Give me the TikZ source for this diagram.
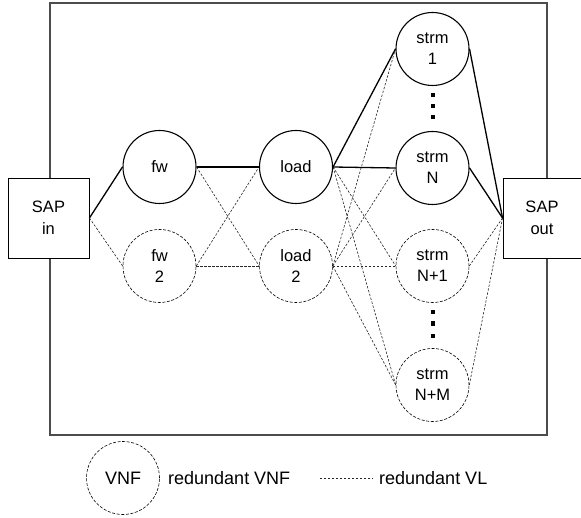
\documentclass[tikz,border=0pt]{standalone}
\usepackage{fontspec}
\setmainfont{Liberation Sans}
\begin{document}
\begin{tikzpicture}[x=1pt,y=-1pt,
  vnf/.style={circle,draw,line width=1.1pt,minimum size=73pt,inner sep=0pt,align=center,
    font=\fontsize{16.5}{21}\selectfont},
  rvnf/.style={vnf,line width=0.6pt,dash pattern=on 3pt off 1.6pt},
  sap/.style={rectangle,draw,fill=white,line width=0.9pt,minimum width=81pt,minimum height=80pt,
    inner sep=0pt,align=center,font=\fontsize{16.5}{22}\selectfont},
  vl/.style={line width=1.3pt},
  rvl/.style={line width=0.6pt,black!85,dash pattern=on 2.4pt off 1.6pt},
  dotmark/.style={fill=black,draw=none,minimum width=4pt,minimum height=4.3pt,inner sep=0pt,rectangle},
  legend/.style={font=\fontsize{18}{22}\selectfont,anchor=west,inner sep=0pt}]
\useasboundingbox (0,0) rectangle (581,518);

% enclosing box of the service chain
\draw[black!70,line width=1.2pt] (50,3) rectangle (547,435);

% service access points
\node[sap] (sapin) at (48.5,218) {SAP\\in};
\node[sap,minimum width=78pt] (sapout) at (542,218) {SAP\\out};

% active and redundant VNFs
\node[vnf] (fw) at (159.5,167) {fw};
\node[rvnf] (fw2) at (159.5,266) {fw\\2};
\node[vnf] (load) at (296,167) {load};
\node[rvnf] (load2) at (296,266) {load\\2};
\node[vnf] (s1) at (432.5,49) {strm\\1};
\node[vnf] (sN) at (432.5,168) {strm\\N};
\node[rvnf] (sN1) at (432.5,266) {strm\\N+1};
\node[rvnf] (sNM) at (432.5,385) {strm\\N+M};

% vertical ellipses between stream instances
\foreach \y/\n in {95/a,106/b,117/c} \node[dotmark] (up\n) at (432.5,\y) {};
\foreach \y/\n in {312/a,323.5/b,336/c} \node[dotmark] (lo\n) at (432.5,\y) {};

% redundant virtual links
\draw[rvl] (sapin.east) -- (fw2.west);
\draw[rvl] (fw.east) -- (load2.west);
\draw[rvl] (fw2.east) -- (load.west);
\draw[rvl] (fw2.east) -- (load2.west);
\draw[rvl] (load.east) -- (sN1.west);
\draw[rvl] (load.east) -- (sNM.west);
\draw[rvl] (load2.east) -- (s1.west);
\draw[rvl] (load2.east) -- (sN.west);
\draw[rvl] (load2.east) -- (sN1.west);
\draw[rvl] (load2.east) -- (sNM.west);
\draw[rvl] (sN1.east) -- (sapout.west);
\draw[rvl] (sNM.east) -- (sapout.west);

% primary virtual links
\draw[vl] (sapin.east) -- (fw.west);
\draw[vl] (fw.east) -- (load.west);
\draw[vl] (load.east) -- (s1.west);
\draw[vl] (load.east) -- (sN.west);
\draw[vl] (s1.east) -- (sapout.west);
\draw[vl] (sN.east) -- (sapout.west);

% legend
\node[rvnf,font=\fontsize{18}{22}\selectfont] (lgvnf) at (123,478) {VNF};
\node[legend] (lgvnftext) at (168,478) {redundant VNF};
\coordinate (lgvla) at (320,478);
\coordinate (lgvlb) at (373,478);
\node[legend] (lgvltext) at (379,478) {redundant VL};
\draw[rvl] (lgvla) -- (lgvlb);
\end{tikzpicture}
\end{document}
